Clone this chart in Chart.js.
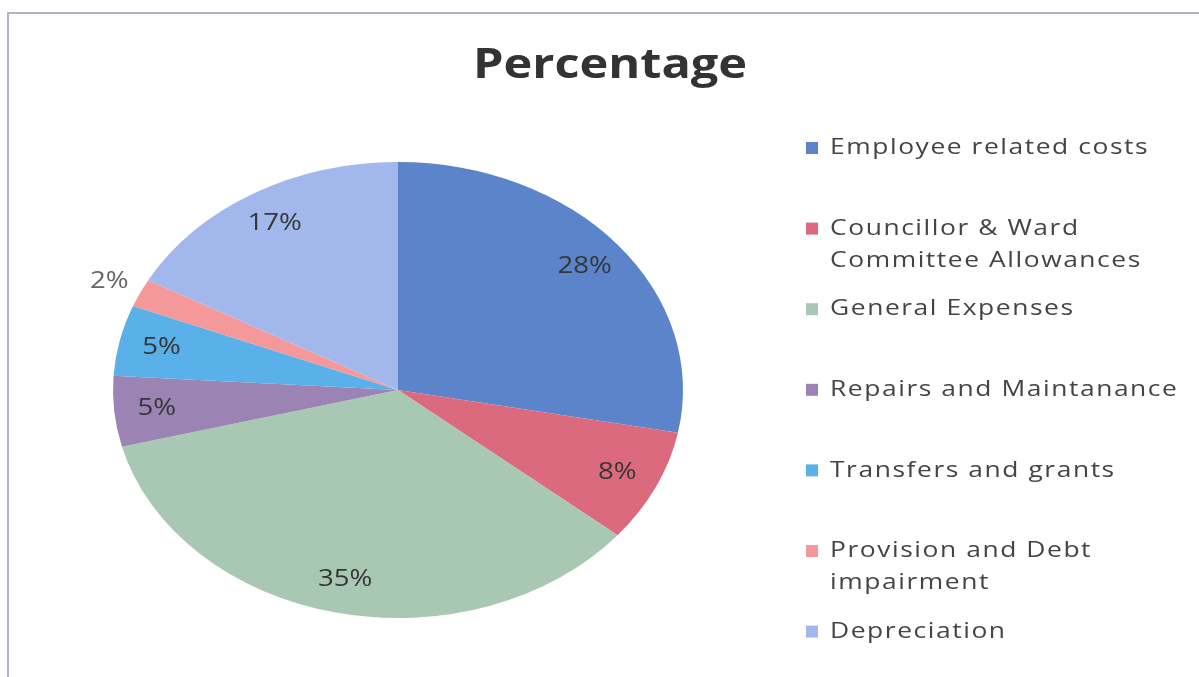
<!DOCTYPE html>
<html>
<head>
<meta charset="utf-8">
<script src="https://cdn.jsdelivr.net/npm/chart.js@4/dist/chart.umd.min.js"></script>
<style>
    body { margin: 0; background: #ffffff; }
    #wrap { width: 1199px; height: 677px; position: relative; }
</style>
</head>
<body>
<div id="wrap"><canvas id="myPieChart" width="1199" height="677"></canvas></div>
<script>
let categories = ['Employee related costs', 'Councillor & Ward Committee Allowances', 'General Expenses',
    'Repairs and Maintanance', 'Transfers and grants', 'Provision and Debt impairment', 'Depreciation'];
let percentages = [28, 8, 35, 5, 5, 2, 17];
let sliceColors = ['#5c84cb', '#dc6a7f', '#a9c8b4', '#9b84b4', '#5ab0e8', '#f4989a', '#a2b8ec'];
let chartTitle = 'Percentage';

let fontName = '"Open Sans", "DejaVu Sans", sans-serif';
let stretchX = 1.25;   // the pie in the picture is an ellipse
let textStretch = 1.2; // and the text is a bit wide too

function wideText(ctx, text, x, y, sx) {
    ctx.save();
    ctx.translate(x, y);
    ctx.scale(sx, 1);
    ctx.fillText(text, 0, 0);
    ctx.restore();
}

// draws the pie stretched sideways
let ellipsePlugin = {
    id: 'ellipse',
    beforeDatasetsDraw(chart) {
        let ctx = chart.ctx;
        let meta = chart.getDatasetMeta(0);
        let cx = meta.data[0].x, cy = meta.data[0].y;
        ctx.save();
        ctx.translate(cx, cy);
        ctx.scale(stretchX, 1);
        ctx.translate(-cx, -cy);
    },
    afterDatasetsDraw(chart) {
        chart.ctx.restore();
    }
};

// title, percent labels and the legend on the right
let textPlugin = {
    id: 'texts',
    afterDraw(chart) {
        let ctx = chart.ctx;
        ctx.save();

        // frame
        ctx.strokeStyle = '#b9aecb';
        ctx.lineWidth = 2;
        ctx.strokeRect(8, 13, 1200, 700);

        ctx.fillStyle = '#333333';
        ctx.font = 'bold 42px ' + fontName;
        ctx.textAlign = 'center';
        ctx.textBaseline = 'alphabetic';
        wideText(ctx, chartTitle, 610, 78, 1.16);

        let meta = chart.getDatasetMeta(0);
        let total = percentages.reduce((a, b) => a + b, 0);
        ctx.textBaseline = 'middle';
        ctx.font = '23px ' + fontName;
        meta.data.forEach(function (arc, i) {
            let mid = (arc.startAngle + arc.endAngle) / 2;
            let small = percentages[i] / total < 0.03;
            let f = small ? 1.12 : 0.85;
            let x = arc.x + Math.cos(mid) * arc.outerRadius * f * stretchX;
            let y = arc.y + Math.sin(mid) * arc.outerRadius * f;
            ctx.fillStyle = small ? '#666666' : '#363636';
            wideText(ctx, Math.round(percentages[i] / total * 100) + '%', x, y, textStretch);
        });

        // legend, entries spread evenly like in the picture
        ctx.textAlign = 'left';
        ctx.font = '22px ' + fontName;
        ctx.letterSpacing = '1.3px';
        let top = 148, step = 80.6, maxW = 355 / textStretch;
        categories.forEach(function (name, i) {
            let y = top + i * step;
            ctx.fillStyle = sliceColors[i];
            ctx.fillRect(806, y - 6, 12, 12);
            let words = name.split(' ');
            let lines = [], line = '';
            words.forEach(function (w) {
                let test = line ? line + ' ' + w : w;
                if (ctx.measureText(test).width > maxW && line) {
                    lines.push(line);
                    line = w;
                } else {
                    line = test;
                }
            });
            lines.push(line);
            ctx.fillStyle = '#444444';
            lines.forEach(function (l, k) {
                wideText(ctx, l, 830, y + k * 32, textStretch);
            });
        });
        ctx.restore();
    }
};

let chart = document.getElementById('myPieChart').getContext('2d');
let myPieChart = new Chart(chart, {
    type: 'pie',
    data: {
        labels: categories,
        datasets: [{
            data: percentages,
            backgroundColor: sliceColors,
            borderWidth: 0
        }]
    },
    options: {
        responsive: false,
        animation: false,
        layout: {
            padding: { left: 170, right: 573, top: 162, bottom: 59 }
        },
        plugins: {
            legend: { display: false },
            title: { display: false },
            tooltip: { enabled: false }
        }
    },
    plugins: [ellipsePlugin, textPlugin]
});
</script>
</body>
</html>
